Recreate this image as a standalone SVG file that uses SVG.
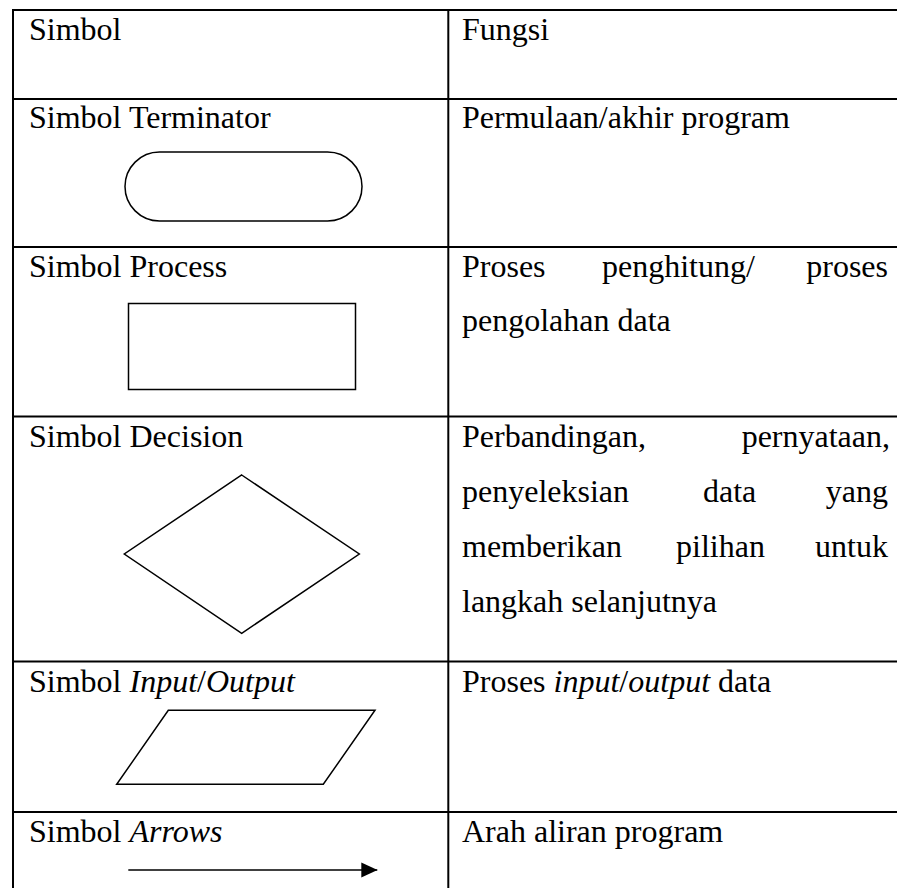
<svg xmlns="http://www.w3.org/2000/svg" width="897" height="888" viewBox="0 0 897 888">
<style>
.t{font-family:"Liberation Serif","Times New Roman",Tinos,"DejaVu Serif",serif;font-size:32px;fill:#000}
.i{font-style:italic}
.grid{stroke:#000;stroke-width:2;fill:none}
.shape{stroke:#000;stroke-width:1.5;fill:none}
</style>
<defs>
<marker id="ah" markerWidth="16" markerHeight="16" refX="16" refY="8" orient="auto" markerUnits="userSpaceOnUse">
<path d="M0,0.5 L16,8 L0,15.5 Z" fill="#000"/>
</marker>
</defs>
<rect width="897" height="888" fill="#fff"/>
<g id="table">
<line class="grid" x1="12" y1="10" x2="897" y2="10"/>
<line class="grid" x1="12" y1="99" x2="897" y2="99"/>
<line class="grid" x1="12" y1="247" x2="897" y2="247"/>
<line class="grid" x1="12" y1="416.5" x2="897" y2="416.5"/>
<line class="grid" x1="12" y1="661.5" x2="897" y2="661.5"/>
<line class="grid" x1="12" y1="812" x2="897" y2="812"/>
<line class="grid" x1="13" y1="9" x2="13" y2="888"/>
<line class="grid" x1="448.3" y1="9" x2="448.3" y2="888"/>
</g>
<g id="header">
<text class="t" x="29" y="40">Simbol</text>
<text class="t" x="462" y="40">Fungsi</text>
</g>
<g id="terminator">
<text class="t" x="29" y="128">Simbol Terminator</text>
<rect class="shape" x="125" y="152" width="237" height="69" rx="34.5" ry="34.5"/>
<text class="t" x="462" y="128">Permulaan/akhir program</text>
</g>
<g id="process">
<text class="t" x="29" y="277">Simbol Process</text>
<rect class="shape" x="128.5" y="303.5" width="227" height="86"/>
<text class="t" x="462" y="277">Proses</text>
<text class="t" x="602" y="277">penghitung/</text>
<text class="t" x="888" y="277" text-anchor="end">proses</text>
<text class="t" x="462" y="331">pengolahan data</text>
</g>
<g id="decision">
<text class="t" x="29" y="447">Simbol Decision</text>
<polygon class="shape" points="241.7,475 359.3,554 241.7,633.3 124.3,554"/>
<text class="t" x="462" y="447">Perbandingan,</text>
<text class="t" x="890" y="447" text-anchor="end">pernyataan,</text>
<text class="t" x="462" y="502">penyeleksian</text>
<text class="t" x="703" y="502">data</text>
<text class="t" x="888" y="502" text-anchor="end">yang</text>
<text class="t" x="462" y="557">memberikan</text>
<text class="t" x="676" y="557">pilihan</text>
<text class="t" x="888" y="557" text-anchor="end">untuk</text>
<text class="t" x="462" y="612">langkah selanjutnya</text>
</g>
<g id="io">
<text class="t" x="29" y="692">Simbol <tspan class="i">Input</tspan>/<tspan class="i">Output</tspan></text>
<polygon class="shape" points="168.3,710.3 375,710.3 323.3,784.3 116.7,784.3"/>
<text class="t" x="462" y="692">Proses <tspan class="i">input</tspan>/<tspan class="i">output</tspan> data</text>
</g>
<g id="arrows">
<text class="t" x="29" y="842">Simbol <tspan class="i">Arrows</tspan></text>
<text class="t" x="462" y="842">Arah aliran program</text>
</g>
<g id="connectors">
<line class="shape" x1="128.3" y1="870" x2="377.3" y2="870" marker-end="url(#ah)"/>
</g>
</svg>
